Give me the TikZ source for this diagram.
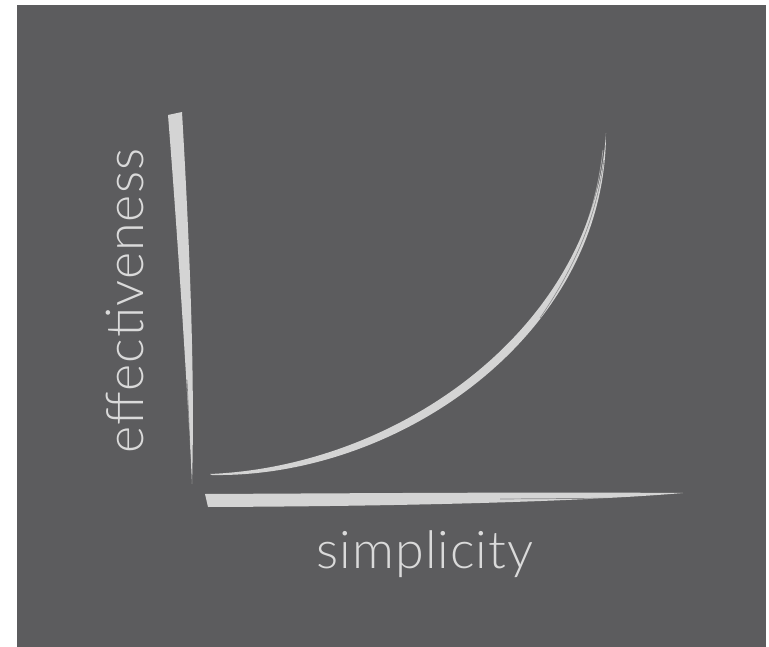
\documentclass[tikz,border=0pt]{standalone}
\usepackage{fontspec}
\setmainfont{Lato}[UprightFont=*-Light,LetterSpace=2]
\definecolor{PanelGray}{HTML}{5C5C5E}
\definecolor{ChalkWhite}{HTML}{D4D4D4}
\definecolor{ChalkText}{HTML}{DADADA}

\begin{document}
\begin{tikzpicture}[x=1pt,y=-1pt]
  \useasboundingbox[fill=white] (0,0) rectangle (769,647);
  \fill[PanelGray] (17,5) rectangle (766,647);
  % brush strokes for the two axes
  \fill[ChalkWhite] (168,115) -- (182,112) .. controls (190,250) and (195,380) .. (192,484) .. controls (188,400) and (178,240) .. cycle;
  \draw[PanelGray,line width=.6pt,opacity=.7] (187,380) .. controls (189,420) and (190,450) .. (191,482);
  \fill[ChalkWhite] (205,494) .. controls (400,493) and (550,492) .. (683,493) .. controls (600,500) and (450,506) .. (208,507) -- cycle;
  \draw[PanelGray,line width=.7pt,opacity=.6] (500,499) -- (640,498);
  % the growth curve
  \fill[ChalkWhite] (210,474) .. controls (400,466) and (594,328) .. (606,133) .. controls (606,334) and (400,478) .. (212,475) -- cycle;
  \draw[ChalkWhite,line width=.8pt,opacity=.6] (515,345) .. controls (570,280) and (595,220) .. (603,150);
  \draw[PanelGray,line width=.6pt,opacity=.6] (540,318) .. controls (580,260) and (597,210) .. (604,160);
  \node[ChalkText,font=\fontsize{52}{52}\selectfont,anchor=base] (xlab) at (425,568) {simplicity};
  \node[ChalkText,font=\fontsize{52}{52}\selectfont,anchor=base,rotate=90] (ylab) at (143,301) {effectiveness};
\end{tikzpicture}
\end{document}
